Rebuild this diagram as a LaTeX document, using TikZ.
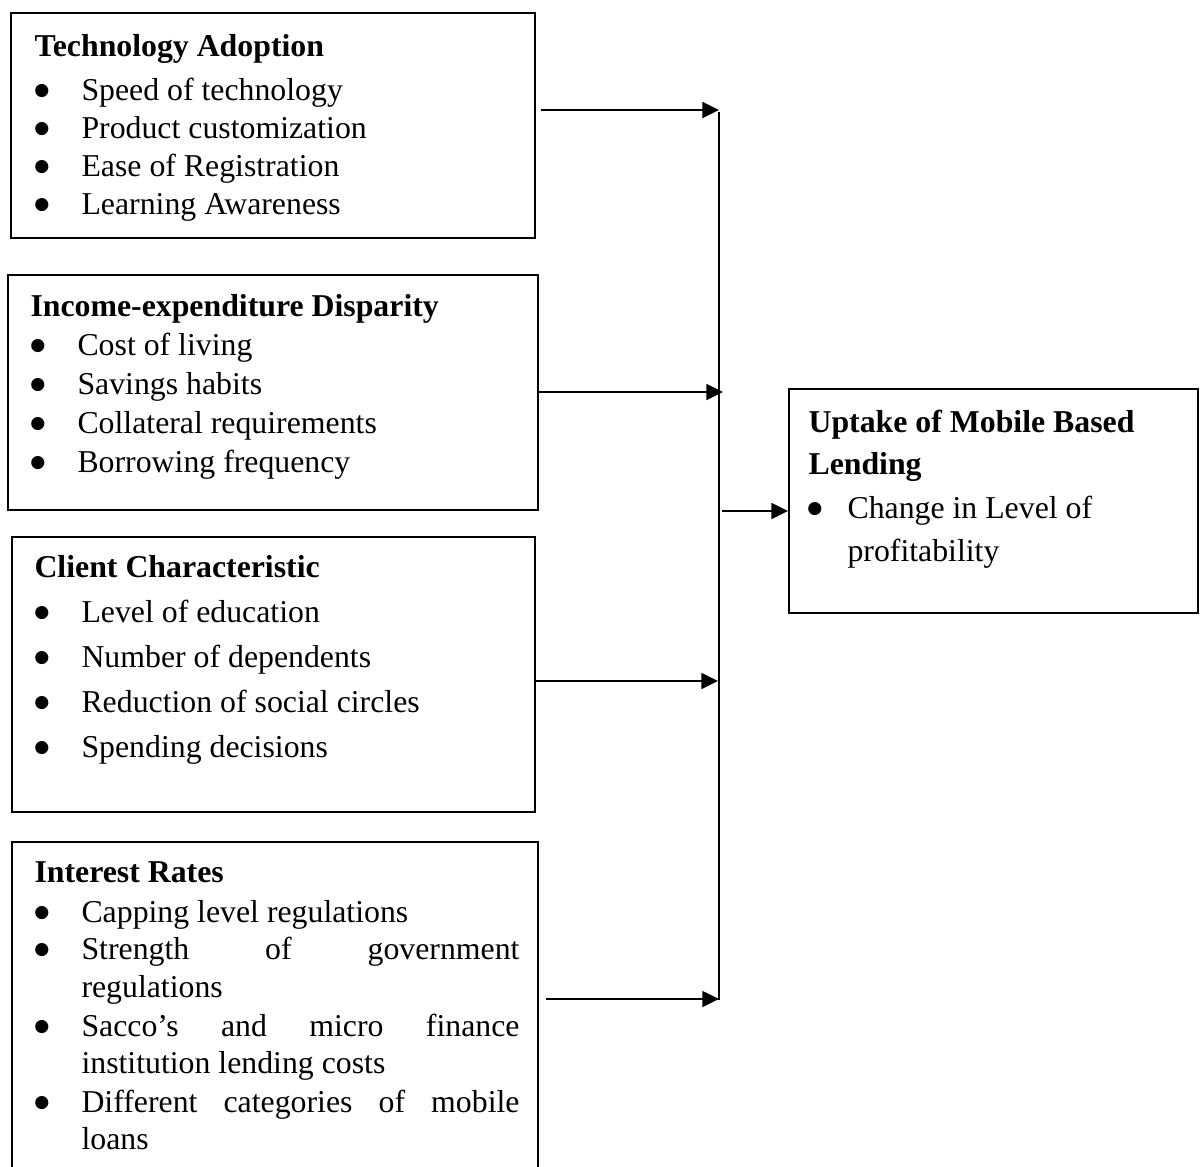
\documentclass[tikz,border=0pt]{standalone}
\usepackage{fontspec}
\setmainfont{Liberation Serif}
\newfontfamily\symfont{DejaVu Sans}
\usetikzlibrary{arrows.meta,fit,calc}
\tikzset{
  box/.style={draw, line width=0.75pt, inner sep=0pt},
  txt/.style={anchor=base west, inner sep=0pt, font=\fontsize{12}{14}\selectfont},
  ttl/.style={anchor=base west, inner sep=0pt, font=\fontsize{12}{14}\selectfont\bfseries},
  bul/.style={anchor=base, inner sep=0pt, font=\symfont\fontsize{6.5}{7}\selectfont},
  arr/.style={line width=0.75pt, -{Triangle[length=6.3pt,width=6pt]}},
}
\newcommand{\jline}[1]{\makebox[165.3pt][s]{#1}}
\newcommand{\bigbul}{\raisebox{1.8pt}{●}}

\begin{document}
\begin{tikzpicture}[x=0.3774pt, y=-0.3774pt]
\useasboundingbox (0,0) rectangle (1203,1166);
\clip (0,0) rectangle (1203,1166);

\node[box, fit={(11,13) (535,238)}] (tech) {};
\node[box, fit={(8,275) (538,510)}] (income) {};
\node[box, fit={(12,537) (535,812)}] (client) {};
\node[box, fit={(12,842) (538,1190)}] (interest) {};
\node[box, fit={(789,389) (1198,613)}] (uptake) {};

\node[ttl] (techT) at (34,56) {Technology Adoption};
\foreach \t [count=\i] in {Speed of technology, Product customization, Ease of Registration, Learning Awareness} {
  \node[bul] (techB\i) at (42,{62+38*\i}) {\bigbul};
  \node[txt] (techI\i) at (81,{62+38*\i}) {\t};
}

\node[ttl] (incT) at (30,316) {Income-expenditure Disparity};
\foreach \t [count=\i] in {Cost of living, Savings habits, Collateral requirements, Borrowing frequency} {
  \node[bul] (incB\i) at (38,{316+39*\i}) {\bigbul};
  \node[txt] (incI\i) at (77,{316+39*\i}) {\t};
}

\node[ttl] (cliT) at (34,577) {Client Characteristic};
\foreach \t [count=\i] in {Level of education, Number of dependents, Reduction of social circles, Spending decisions} {
  \node[bul] (cliB\i) at (42,{577+45*\i}) {\bigbul};
  \node[txt] (cliI\i) at (81,{577+45*\i}) {\t};
}

\node[ttl] (intT) at (34,882) {Interest Rates};
\node[bul] (intB1) at (42,922) {\bigbul};
\node[txt] (intI1) at (81,922) {Capping level regulations};
\node[bul] (intB2) at (42,959) {\bigbul};
\node[txt] (intI2) at (81,959) {\jline{Strength of government}};
\node[txt] (intI2b) at (81,997) {regulations};
\node[bul] (intB3) at (42,1036) {\bigbul};
\node[txt] (intI3) at (81,1036) {\jline{Sacco’s and micro finance}};
\node[txt] (intI3b) at (81,1073) {institution lending costs};
\node[bul] (intB4) at (42,1112) {\bigbul};
\node[txt] (intI4) at (81,1112) {\jline{Different categories of mobile}};
\node[txt] (intI4b) at (81,1149) {loans};

\node[ttl] (upT1) at (808,432) {Uptake of Mobile Based};
\node[ttl] (upT2) at (808,474) {Lending};
\node[bul] (upB1) at (815,518) {\bigbul};
\node[txt] (upI1) at (847,518) {Change in Level of};
\node[txt] (upI1b) at (847,561) {profitability};

\coordinate (jt) at (719,112);
\coordinate (j1) at (719,110);
\coordinate (j2) at (719,392);
\coordinate (j3) at (719,681);
\coordinate (j4) at (719,999);
\coordinate (jb) at (719,1000);
\coordinate (jo) at (722,511);

\draw[line width=0.75pt] (jt) -- (jb);
\draw[arr] ($(tech.east |- j1)+(5,0)$) -- (j1);
\draw[arr] (income.east |- j2) -- ($(j2)+(4,0)$);
\draw[arr] (client.east |- j3) -- ($(j3)+(-1,0)$);
\draw[arr] ($(interest.east |- j4)+(7,0)$) -- (j4);
\draw[arr] (jo) -- (uptake.west |- jo);
\end{tikzpicture}
\end{document}
